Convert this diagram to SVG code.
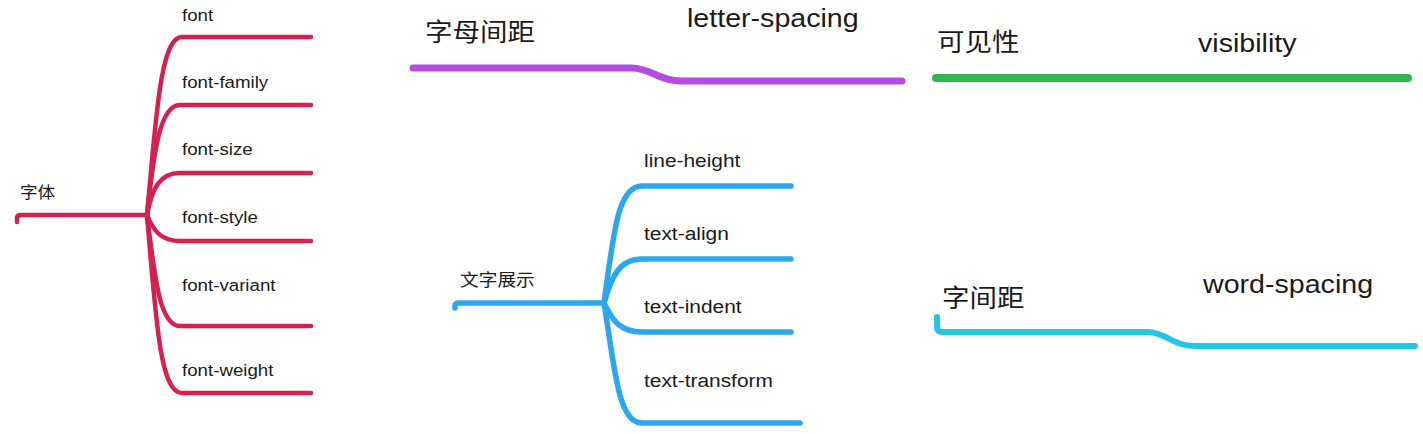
<svg xmlns="http://www.w3.org/2000/svg" width="1423" height="434" viewBox="0 0 1423 434">
<style>
.bg{fill:#ffffff}
.t{font-family:"Liberation Sans","Noto Sans CJK SC",Arial,sans-serif;fill:#1a1a1a}
.cjk{font-family:"Noto Sans CJK SC","Liberation Sans",sans-serif;fill:#1a1a1a}
.s{font-size:17px}
.m{font-size:19px}
.l{font-size:26px}
.c{fill:none;stroke-linecap:round;stroke-linejoin:round}
.red{stroke:#d4214f;stroke-width:4.5}
.blue{stroke:#2aa7ef;stroke-width:5.5}
.purple{stroke:#b44be2;stroke-width:7}
.green{stroke:#2fb84f;stroke-width:8}
.cyan{stroke:#25c6e3;stroke-width:6}
</style>
<rect class="bg" x="0" y="0" width="1423" height="434"/>
<g id="connectors">
  <path class="c red" d="M17,222 L17,218 Q17,215 21,215 L147,215"/>
  <path class="c red" d="M147,215 C156,120 160,37 182,37 L311,37"/>
  <path class="c red" d="M147,215 C154,150 160,105 180,105 L311,105"/>
  <path class="c red" d="M147,215 C152,188 160,173 180,173 L311,173"/>
  <path class="c red" d="M147,215 C154,232 162,241 180,241 L311,241"/>
  <path class="c red" d="M147,215 C155,280 160,326 180,326 L311,326"/>
  <path class="c red" d="M147,215 C156,320 160,393 182,393 L311,393"/>
  <path class="c blue" d="M455,308 L455,306 Q455,303 459,303 L604,303"/>
  <path class="c blue" d="M604,303 C614,230 618,186 642,186 L791,186"/>
  <path class="c blue" d="M604,303 C612,275 620,259 642,259 L791,259"/>
  <path class="c blue" d="M604,303 C612,320 620,332 642,332 L791,332"/>
  <path class="c blue" d="M604,303 C615,370 618,423 642,423 L800,423"/>
  <path class="c purple" d="M413,68 L632,68 C650,68 660,81 680,81 L902,81"/>
  <path class="c green" d="M936,78 L1408,78"/>
  <path class="c cyan" d="M937,317 L937,327 Q937,332 943,332 L1148,332 C1165,332 1172,346 1195,346 L1415,346"/>
</g>
<g id="node-ziti"><text class="cjk" font-size="16" transform="translate(20,198) scale(1.1,1)">字体</text></g>
<g id="node-font"><text class="t s" transform="translate(182,21) scale(1.1,1)">font</text></g>
<g id="node-font-family"><text class="t s" transform="translate(182,88) scale(1.1,1)">font-family</text></g>
<g id="node-font-size"><text class="t s" transform="translate(182,155) scale(1.1,1)">font-size</text></g>
<g id="node-font-style"><text class="t s" transform="translate(182,223) scale(1.1,1)">font-style</text></g>
<g id="node-font-variant"><text class="t s" transform="translate(182,291) scale(1.1,1)">font-variant</text></g>
<g id="node-font-weight"><text class="t s" transform="translate(182,376) scale(1.1,1)">font-weight</text></g>
<g id="node-zimujianju"><text class="cjk" font-size="25" transform="translate(425,41) scale(1.1,1)">字母间距</text></g>
<g id="node-letter-spacing"><text class="t l" transform="translate(687,27) scale(1.1,1)">letter-spacing</text></g>
<g id="node-wenzizhanshi"><text class="cjk" font-size="17" transform="translate(460,286) scale(1.1,1)">文字展示</text></g>
<g id="node-line-height"><text class="t m" transform="translate(644,167) scale(1.1,1)">line-height</text></g>
<g id="node-text-align"><text class="t m" transform="translate(644,240) scale(1.1,1)">text-align</text></g>
<g id="node-text-indent"><text class="t m" transform="translate(644,313) scale(1.1,1)">text-indent</text></g>
<g id="node-text-transform"><text class="t m" transform="translate(644,387) scale(1.1,1)">text-transform</text></g>
<g id="node-kejianxing"><text class="cjk" font-size="25" transform="translate(937,51) scale(1.1,1)">可见性</text></g>
<g id="node-visibility"><text class="t l" transform="translate(1198,52) scale(1.1,1)">visibility</text></g>
<g id="node-zijianju"><text class="cjk" font-size="25" transform="translate(942,307) scale(1.1,1)">字间距</text></g>
<g id="node-word-spacing"><text class="t l" transform="translate(1203,293) scale(1.1,1)">word-spacing</text></g>
</svg>
